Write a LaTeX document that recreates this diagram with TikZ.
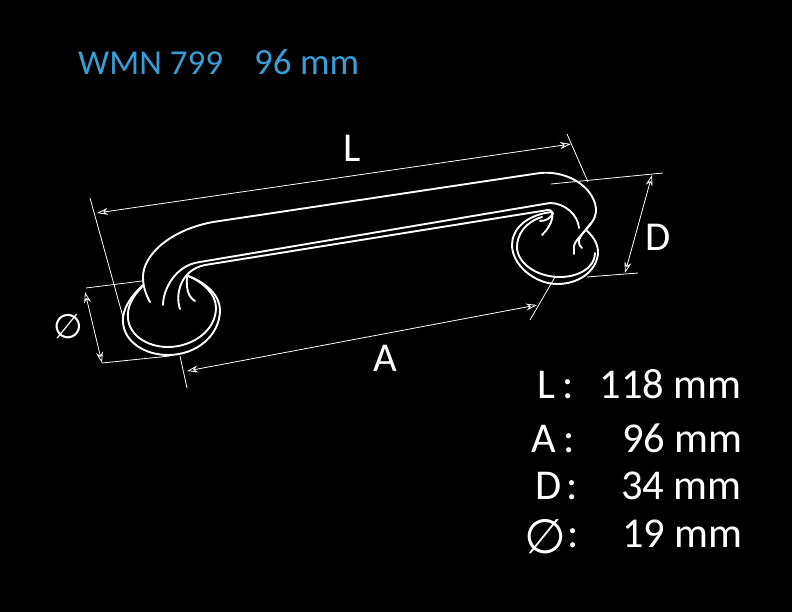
\documentclass[tikz,border=0pt]{standalone}
\usepackage{fontspec}
\setmainfont{Carlito}
\newfontfamily\symfont{DejaVu Sans}
\usetikzlibrary{arrows.meta}
\definecolor{titleblue}{RGB}{58,158,214}
\tikzset{
  handle/.style={draw=white,line width=1.9pt,line cap=round,line join=round},
  thin dim/.style={draw=white,line width=0.8pt},
  dimarrow/.style={thin dim,{Stealth[length=11pt,width=7pt,fill=black,open]}-{Stealth[length=11pt,width=7pt,fill=black,open]}},
  lab/.style={text=white,inner sep=0pt,anchor=base,font=\fontsize{41}{41}\selectfont},
  spec/.style={text=white,inner sep=0pt,font=\fontsize{42.5}{42.5}\selectfont},
  ttl/.style={text=titleblue,inner sep=0pt,anchor=base west,font=\fontsize{35}{35}\selectfont}
}
\begin{document}
\begin{tikzpicture}[x=1pt,y=-1pt]
\useasboundingbox[fill=black] (0,0) rectangle (792,612);
% dimension coordinates
\coordinate (la) at (97,213); \coordinate (lb) at (571,144);
\coordinate (le1) at (90,198); \coordinate (le2) at (123,317);
\coordinate (le3) at (567,134); \coordinate (le4) at (588,182);
\coordinate (da) at (652,175); \coordinate (db) at (625,273);
\coordinate (de1) at (551,184); \coordinate (de2) at (663,173);
\coordinate (de3) at (587,277); \coordinate (de4) at (638,273);
\coordinate (pa) at (85,292); \coordinate (pb) at (102,363);
\coordinate (pe1) at (86,288); \coordinate (pe2) at (142,281);
\coordinate (pe3) at (102,363); \coordinate (pe4) at (170,356);
\coordinate (aa) at (187,371); \coordinate (ab) at (537,305);
\coordinate (ae1) at (180,356); \coordinate (ae2) at (187,388);
\coordinate (ae3) at (555,277); \coordinate (ae4) at (530,320);
% extension lines
\draw[thin dim] (le1) -- (le2);
\draw[thin dim] (le3) -- (le4);
\draw[thin dim] (de1) -- (de2);
\draw[thin dim] (de3) -- (de4);
\draw[thin dim] (pe1) -- (pe2);
\draw[thin dim] (pe3) -- (pe4);
\draw[thin dim] (ae1) -- (ae2);
\draw[thin dim] (ae3) -- (ae4);
% dimension arrows
\draw[dimarrow] (la) -- (lb);
\draw[dimarrow] (da) -- (db);
\draw[dimarrow] (pa) -- (pb);
\draw[dimarrow] (aa) -- (ab);
% handle outer bar
\draw[handle] (150,302) .. controls (145,293) and (143,285) .. (143,277)
  .. controls (143,255) and (170,230) .. (213,222) -- (540,173)
  .. controls (570,170) and (597,190) .. (596,212)
  .. controls (595,225) and (575,238) .. (574,246) -- (574,254);
\draw[handle] (582,248) .. controls (578,245) and (578,240) .. (581,236) .. controls (584,231) and (588,227) .. (591,223);
% inner bar
\draw[handle] (163,305) .. controls (163,290) and (175,265) .. (200,262) -- (550,203)
  .. controls (565,203) and (578,215) .. (579,228);
\draw[handle] (180,309) .. controls (175,295) and (180,270) .. (205,265) -- (548,210)
  .. controls (556,209) and (553,225) .. (542,235);
\draw[handle] (195,301) .. controls (188,297) and (186,288) .. (187,277);
% left flange
\draw[handle] (143,285) .. controls (130,297) and (122,310) .. (123,322)
  .. controls (124,342) and (145,355) .. (168,355)
  .. controls (197,355) and (220,335) .. (220,310)
  .. controls (220,295) and (205,282) .. (188,276);
\draw[handle] (142,287) .. controls (132,297) and (127,307) .. (128,318)
  .. controls (129,335) and (147,347) .. (168,347)
  .. controls (193,347) and (216,330) .. (216,308)
  .. controls (216,294) and (203,282) .. (188,276);
% right flange
\draw[handle] (552,212) .. controls (525,215) and (512,230) .. (512,245)
  .. controls (512,265) and (535,284) .. (557,284)
  .. controls (582,284) and (598,268) .. (598,252)
  .. controls (598,243) and (592,235) .. (586,230);
\draw[handle] (542,217) .. controls (525,222) and (517,235) .. (517,247)
  .. controls (517,262) and (535,277) .. (560,277)
  .. controls (578,277) and (595,268) .. (595,253);
\draw[handle] (540,221) .. controls (546,221) and (551,218) .. (553,213);
% labels
\node[ttl] (t1) at (78,75) {WMN 799};
\node[ttl,font=\fontsize{37}{37}\selectfont] (t2) at (254,75) {96 mm};
\node[lab] (nl) at (352,162) {L};
\node[lab] (nd) at (658,251) {D};
\node[lab] (na) at (385,371) {A};
\node[lab,font=\symfont\fontsize{34}{34}\selectfont] (np) at (68,338) {∅};
% specification table
\node[spec,anchor=base] (s1) at (546,398) {L};
\node[spec,anchor=base] (c1) at (568,398) {:};
\node[spec,anchor=base east] (v1) at (742,398) {118 mm};
\node[spec,anchor=base] (s2) at (544,452) {A};
\node[spec,anchor=base] (c2) at (569,452) {:};
\node[spec,anchor=base east] (v2) at (743,452) {96 mm};
\node[spec,anchor=base] (s3) at (549,499) {D};
\node[spec,anchor=base] (c3) at (572,499) {:};
\node[spec,anchor=base east] (v3) at (742,499) {34 mm};
\node[spec,anchor=base,font=\symfont\fontsize{48}{48}\selectfont] (s4) at (545,553) {∅};
\node[spec,anchor=base] (c4) at (573,547) {:};
\node[spec,anchor=base east] (v4) at (743,547) {19 mm};
\end{tikzpicture}
\end{document}
